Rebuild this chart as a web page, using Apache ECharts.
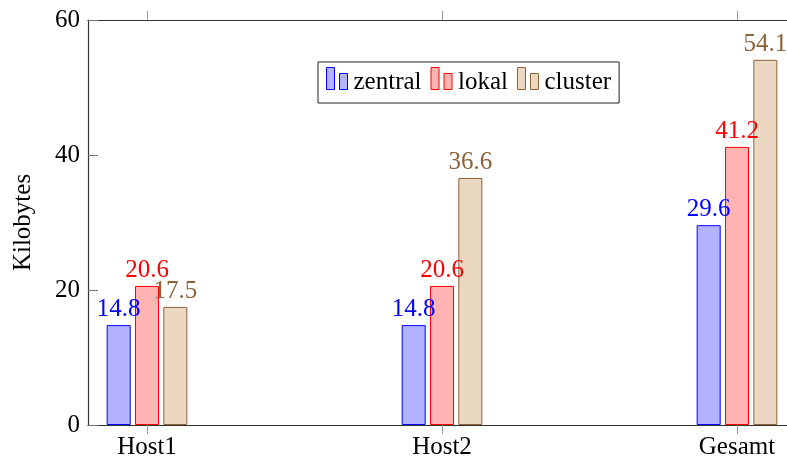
<!DOCTYPE html>
<html>
<head>
<meta charset="utf-8">
<script src="https://cdn.jsdelivr.net/npm/echarts@6/dist/echarts.min.js"></script>
<style>html,body{margin:0;padding:0;background:#fff;}#c{width:787px;height:468px;}</style>
</head>
<body>
<div id="c"></div>
<script>
const categories = ['Host1', 'Host2', 'Gesamt'];
const zentral = [14.8, 14.8, 29.6];
const lokal = [20.6, 20.6, 41.2];
const cluster = [17.5, 36.6, 54.1];
const yTicks = [0, 20, 40, 60];

const FONT = '"Liberation Serif", "DejaVu Serif", serif';
const FS = 25;
const positions = categories.map((c, i) => i);
const pair = arr => arr.map((v, i) => [positions[i], v]);
const iconPath = 'path://M0,0 h8 v22 h-8 z M13,6 h8 v16 h-8 z';

function barSeries(name, data, fill, stroke, labelColor) {
  return {
    name: name,
    type: 'bar',
    data: pair(data),
    barWidth: 24,
    barGap: '18%',
    itemStyle: { color: fill, borderColor: stroke, borderWidth: 1 },
    label: {
      show: true, position: 'top', distance: 3,
      color: labelColor, fontFamily: FONT, fontSize: FS,
      formatter: p => p.value[1].toFixed(1)
    },
    emphasis: { disabled: true }
  };
}

const chart = echarts.init(document.getElementById('c'), null, { renderer: 'canvas' });
chart.setOption({
  animation: false,
  grid: { left: 88, top: 20, width: 708, height: 405, outerBoundsMode: 'none', containLabel: false },
  legend: {
    left: 318, top: 62,
    orient: 'horizontal',
    padding: [0, 8, 8, 8],
    borderColor: '#222', borderWidth: 1,
    itemWidth: 21, itemHeight: 22, itemGap: 9,
    icon: iconPath,
    itemStyle: { borderWidth: 1 },
    formatter: '{t|{name}}',
    textStyle: {
      fontFamily: FONT, fontSize: FS, color: '#000',
      rich: { t: { fontFamily: FONT, fontSize: FS, lineHeight: 26, color: '#000', padding: [8, 0, 0, 1] } }
    },
    data: ['zentral', 'lokal', 'cluster']
  },
  xAxis: [
    {
      type: 'value', min: -0.2, max: 2.2, position: 'bottom',
      axisLine: { show: true, onZero: false, lineStyle: { color: '#333', width: 1.2 } },
      axisTick: { show: true, customValues: positions, inside: false, length: 9, lineStyle: { color: '#999' } },
      axisLabel: { show: true, customValues: positions, margin: 10, fontFamily: FONT, fontSize: FS, color: '#000',
        formatter: v => categories[Math.round(v)] },
      splitLine: { show: false }
    },
    {
      type: 'value', min: -0.2, max: 2.2, position: 'top',
      axisLine: { show: true, onZero: false, lineStyle: { color: '#333', width: 1.2 } },
      axisTick: { show: true, customValues: positions, inside: false, length: 9, lineStyle: { color: '#999' } },
      axisLabel: { show: false },
      splitLine: { show: false }
    }
  ],
  yAxis: {
    type: 'value', min: 0, max: 60, interval: 20,
    name: 'Kilobytes', nameLocation: 'middle', nameGap: 52, nameRotate: 90,
    nameTextStyle: { fontFamily: FONT, fontSize: FS, color: '#000' },
    axisLine: { show: true, onZero: false, lineStyle: { color: '#333', width: 1.2 } },
    axisTick: { show: true, inside: true, length: 10, lineStyle: { color: '#777' } },
    axisLabel: { margin: 8, fontFamily: FONT, fontSize: FS, color: '#000',
      formatter: v => yTicks.includes(v) ? String(v) : '' },
    splitLine: { show: false }
  },
  series: [
    barSeries('zentral', zentral, '#b3b3ff', '#0000ff', '#0000ff'),
    barSeries('lokal', lokal, '#ffb3b3', '#ff0000', '#ff0000'),
    barSeries('cluster', cluster, '#ebd8c3', '#8c6239', '#8c6239')
  ]
});
</script>
</body>
</html>
